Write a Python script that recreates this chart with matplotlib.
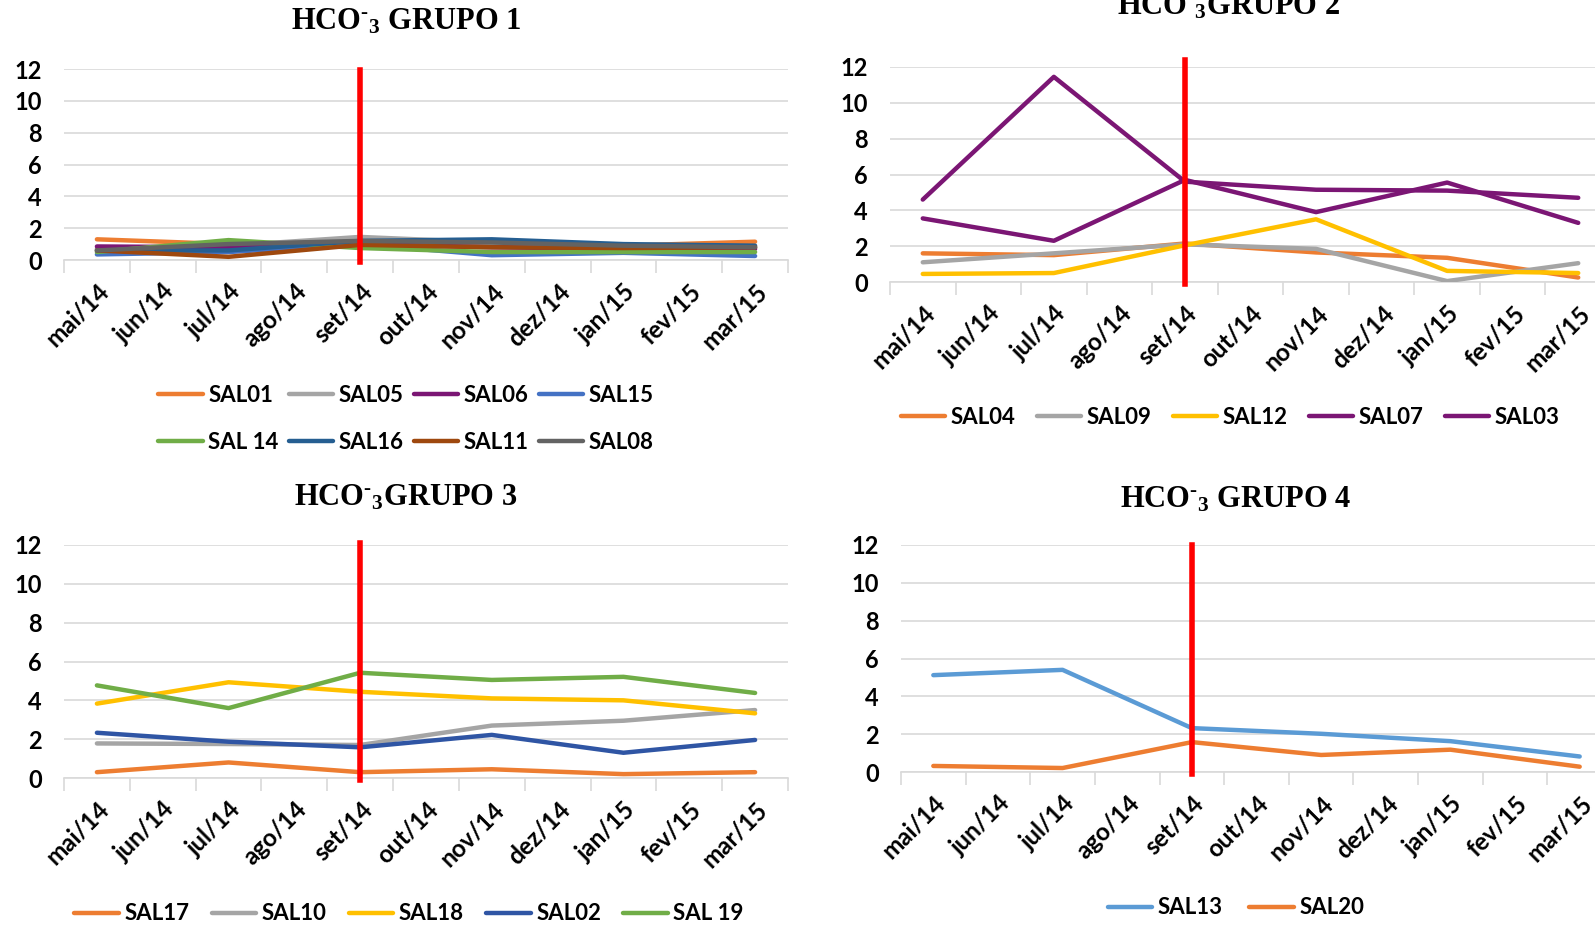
import matplotlib
matplotlib.use("Agg")
import matplotlib.pyplot as plt
from matplotlib.ticker import FixedLocator

plt.rcParams['font.family'] = ['Lato', 'DejaVu Sans']

months = ["mai/14", "jun/14", "jul/14", "ago/14", "set/14", "out/14",
          "nov/14", "dez/14", "jan/15", "fev/15", "mar/15"]
# samples taken every other month: mai, jul, set, nov, jan, mar
sample_idx = [0, 2, 4, 6, 8, 10]

# Grupo 1
g1_names = ["SAL01", "SAL05", "SAL06", "SAL15", "SAL 14", "SAL16", "SAL11", "SAL08"]
g1_colors = ["#ED7D31", "#A5A5A5", "#7B1674", "#4472C4", "#70AD47", "#255E91", "#9E480E", "#636363"]
SAL01 = [1.30, 1.00, 1.00, 1.00, 0.90, 1.15]
SAL05 = [0.70, 0.90, 1.45, 1.10, 0.90, 0.80]
SAL06 = [0.85, 0.80, 1.00, 0.80, 0.70, 0.70]
SAL15 = [0.35, 0.50, 1.00, 0.30, 0.45, 0.25]
SAL14 = [0.50, 1.25, 0.75, 0.50, 0.50, 0.50]
SAL16 = [0.60, 0.60, 1.20, 1.30, 1.00, 0.90]
SAL11 = [0.60, 0.20, 0.95, 0.80, 0.75, 0.80]
SAL08 = [0.60, 1.00, 1.20, 1.10, 0.90, 0.80]
g1_data = [SAL01, SAL05, SAL06, SAL15, SAL14, SAL16, SAL11, SAL08]

# Grupo 2
g2_names = ["SAL04", "SAL09", "SAL12", "SAL07", "SAL03"]
g2_colors = ["#ED7D31", "#A5A5A5", "#FFC000", "#7B1674", "#7B1674"]
SAL04 = [1.60, 1.50, 2.15, 1.65, 1.35, 0.25]
SAL09 = [1.10, 1.60, 2.10, 1.85, 0.05, 1.05]
SAL12 = [0.45, 0.50, 2.05, 3.50, 0.62, 0.50]
SAL07 = [4.60, 11.45, 5.60, 5.15, 5.10, 4.70]
SAL03 = [3.55, 2.30, 5.70, 3.90, 5.55, 3.30]
g2_data = [SAL04, SAL09, SAL12, SAL07, SAL03]

# Grupo 3
g3_names = ["SAL17", "SAL10", "SAL18", "SAL02", "SAL 19"]
g3_colors = ["#ED7D31", "#A5A5A5", "#FFC000", "#2F55A4", "#70AD47"]
SAL17 = [0.30, 0.80, 0.30, 0.45, 0.20, 0.30]
SAL10 = [1.78, 1.75, 1.70, 2.70, 2.95, 3.50]
SAL18 = [3.83, 4.93, 4.44, 4.10, 4.00, 3.33]
SAL02 = [2.33, 1.87, 1.58, 2.22, 1.30, 1.96]
SAL19 = [4.77, 3.60, 5.42, 5.05, 5.21, 4.38]
g3_data = [SAL17, SAL10, SAL18, SAL02, SAL19]

# Grupo 4
g4_names = ["SAL13", "SAL20"]
g4_colors = ["#5B9BD5", "#ED7D31"]
SAL13 = [5.12, 5.40, 2.32, 2.02, 1.63, 0.82]
SAL20 = [0.32, 0.21, 1.58, 0.90, 1.18, 0.28]
g4_data = [SAL13, SAL20]

titles = ["HCO$\\mathregular{{}^{\u2010}{}_{3}}$ GRUPO 1",
          "HCO$\\mathregular{{}^{\u2010}{}_{3}}$GRUPO 2",
          "HCO$\\mathregular{{}^{\u2010}{}_{3}}$GRUPO 3",
          "HCO$\\mathregular{{}^{\u2010}{}_{3}}$ GRUPO 4"]

W, H = 1595, 927
fig = plt.figure(figsize=(W / 100, H / 100), dpi=100)


def px_rect(x0, x1, ytop, ybot):
    return [x0 / W, 1 - ybot / H, (x1 - x0) / W, (ybot - ytop) / H]


panels = [
    dict(rect=px_rect(64, 788, 69, 260), names=g1_names, colors=g1_colors, data=g1_data,
         title_xy=(406, 22), leg_xy=(406, 419), ncol=4, red=(-0.1, 11.95), cs=0.45),
    dict(rect=px_rect(890, 1611, 67, 282), names=g2_names, colors=g2_colors, data=g2_data,
         title_xy=(1228, 7), leg_xy=(1230, 417), ncol=5, red=(-0.1, 12.4), cs=0.95),
    dict(rect=px_rect(64, 788, 545, 778), names=g3_names, colors=g3_colors, data=g3_data,
         title_xy=(406, 498), leg_xy=(409, 914), ncol=5, red=(-0.1, 12.1), cs=1.0),
    dict(rect=px_rect(901, 1612, 545, 772), names=g4_names, colors=g4_colors, data=g4_data,
         title_xy=(1236, 500), leg_xy=(1236, 908), ncol=2, red=(-0.1, 12.0), cs=1.2),
]

for i, p in enumerate(panels):
    ax = fig.add_axes(p["rect"])
    handles = []
    for name, col, vals in zip(p["names"], p["colors"], p["data"]):
        h, = ax.plot(sample_idx, vals, color=col, lw=3.2, solid_capstyle='round',
                     solid_joinstyle='round', label=name, zorder=3)
        handles.append(h)
    ax.set_xlim(-0.5, 10.5)
    ax.set_ylim(0, 12)
    ax.set_yticks(range(0, 13, 2))
    ax.yaxis.grid(True, color="#D9D9D9", lw=1.2)
    ax.set_axisbelow(True)
    for s in ["top", "right", "left"]:
        ax.spines[s].set_visible(False)
    ax.spines["bottom"].set_color("#D9D9D9")
    ax.spines["bottom"].set_linewidth(1.2)
    ax.tick_params(axis="y", length=0, pad=16, labelsize=17)
    for lab in ax.get_yticklabels():
        lab.set_fontweight("bold")
    ax.set_xticks(range(len(months)))
    ax.set_xticklabels(months, rotation=45, ha="right", va="top",
                       rotation_mode="anchor", fontsize=17.5, fontweight="bold")
    ax.tick_params(axis="x", which="major", length=0, pad=14)
    ax.xaxis.set_minor_locator(FixedLocator([k - 0.5 for k in range(12)]))
    ax.tick_params(axis="x", which="minor", length=9, width=1.2, color="#D9D9D9", direction="out")
    # red divider line at set/14
    ax.plot([4, 4], list(p["red"]), color="#FF0000", lw=4, zorder=5, clip_on=False)
    tx, ty = p["title_xy"]
    fig.text(tx / W, 1 - ty / H, titles[i], ha="center", va="center",
             family="Liberation Serif", fontweight="bold", fontsize=22)
    lx, ly = p["leg_xy"]
    ncol = p["ncol"]
    nrow = -(-len(handles) // ncol)
    # legend fills column-wise; reorder so entries read row-wise like the reference
    order = [r * ncol + c for c in range(ncol) for r in range(nrow) if r * ncol + c < len(handles)]
    fig.legend(handles=[handles[k] for k in order], loc="center",
               bbox_to_anchor=(lx / W, 1 - ly / H),
               ncol=ncol, frameon=False, handlelength=2.0,
               handletextpad=0.25, columnspacing=p["cs"], labelspacing=1.15,
               prop={"weight": "bold", "size": 16})

fig.savefig("out.png", dpi=100, facecolor="white")
